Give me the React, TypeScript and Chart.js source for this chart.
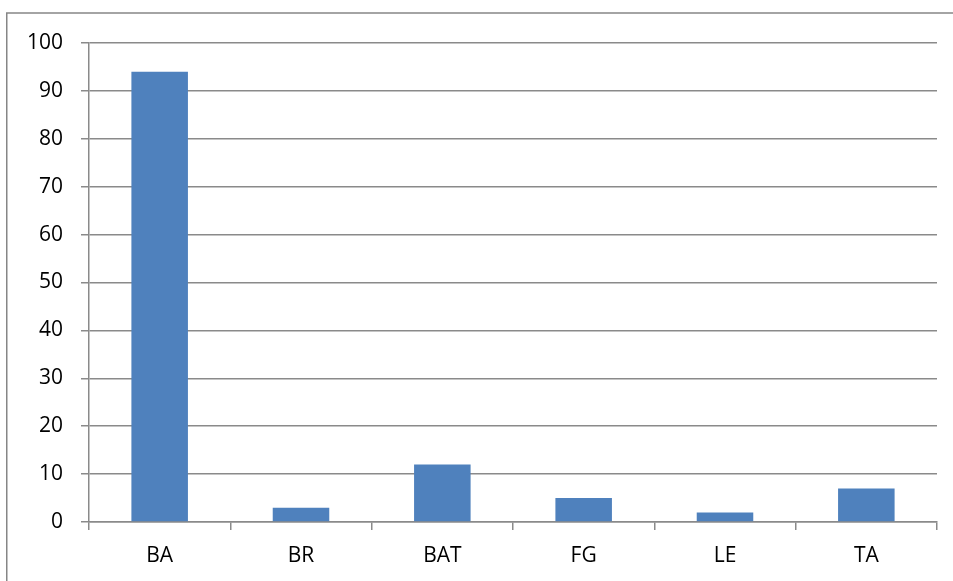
import React, { useEffect, useRef } from "react";
import { Chart, registerables } from "chart.js";

Chart.register(...registerables);

const categories = ["BA", "BR", "BAT", "FG", "LE", "TA"];
const values = [94, 3, 12, 5, 2, 7];
const yMin = 0;
const yMax = 100;
const yStep = 10;

const GRID = "#8a8a8a";
const FONT = "'Open Sans'";

const framePlugin = {
  id: "frame",
  beforeDraw(chart: any) {
    const ctx = chart.ctx;
    ctx.save();
    ctx.fillStyle = "#ffffff";
    ctx.fillRect(0, 0, chart.width, chart.height);
    ctx.strokeStyle = "#868686";
    ctx.lineWidth = 1.5;
    ctx.strokeRect(6.75, 13, 1000, 1000);
    ctx.restore();
  },
};

export default function App() {
  const ref = useRef<HTMLCanvasElement | null>(null);
  useEffect(() => {
    if (!ref.current) return;
    const chart = new Chart(ref.current, {
      type: "bar",
      data: {
        labels: categories,
        datasets: [
          {
            data: values,
            backgroundColor: "#4F81BD",
            borderWidth: 0,
            barPercentage: 0.8,
            categoryPercentage: 0.5,
          },
        ],
      },
      plugins: [framePlugin],
      options: {
        animation: false,
        responsive: false,
        maintainAspectRatio: false,
        layout: { padding: { left: 0, top: 43, right: 16, bottom: 0 } },
        plugins: {
          legend: { display: false },
          tooltip: { enabled: false },
        },
        scales: {
          x: {
            offset: true,
            grid: {
              offset: true,
              drawOnChartArea: false,
              drawTicks: true,
              tickLength: 8,
              color: GRID,
              lineWidth: 1.5,
            },
            border: { display: true, color: GRID, width: 1.5 },
            ticks: {
              color: "#000000",
              font: { family: FONT, size: 21 },
              padding: 13,
              maxRotation: 0,
            },
            afterFit(scale: any) {
              scale.height = 59;
            },
          },
          y: {
            min: yMin,
            max: yMax,
            grid: {
              color: GRID,
              lineWidth: 1.5,
              drawTicks: true,
              tickLength: 8,
            },
            border: { display: true, color: GRID, width: 1.5 },
            ticks: {
              stepSize: yStep,
              color: "#000000",
              font: { family: FONT, size: 21 },
              padding: 18,
            },
            afterFit(scale: any) {
              scale.width = 89;
            },
          },
        },
      },
    });
    return () => chart.destroy();
  }, []);
  return (
    <div style={{ position: "fixed", left: 0, top: 0, width: 953, height: 581, background: "#fff" }}>
      <canvas ref={ref} width={953} height={581} style={{ display: "block" }} />
    </div>
  );
}
